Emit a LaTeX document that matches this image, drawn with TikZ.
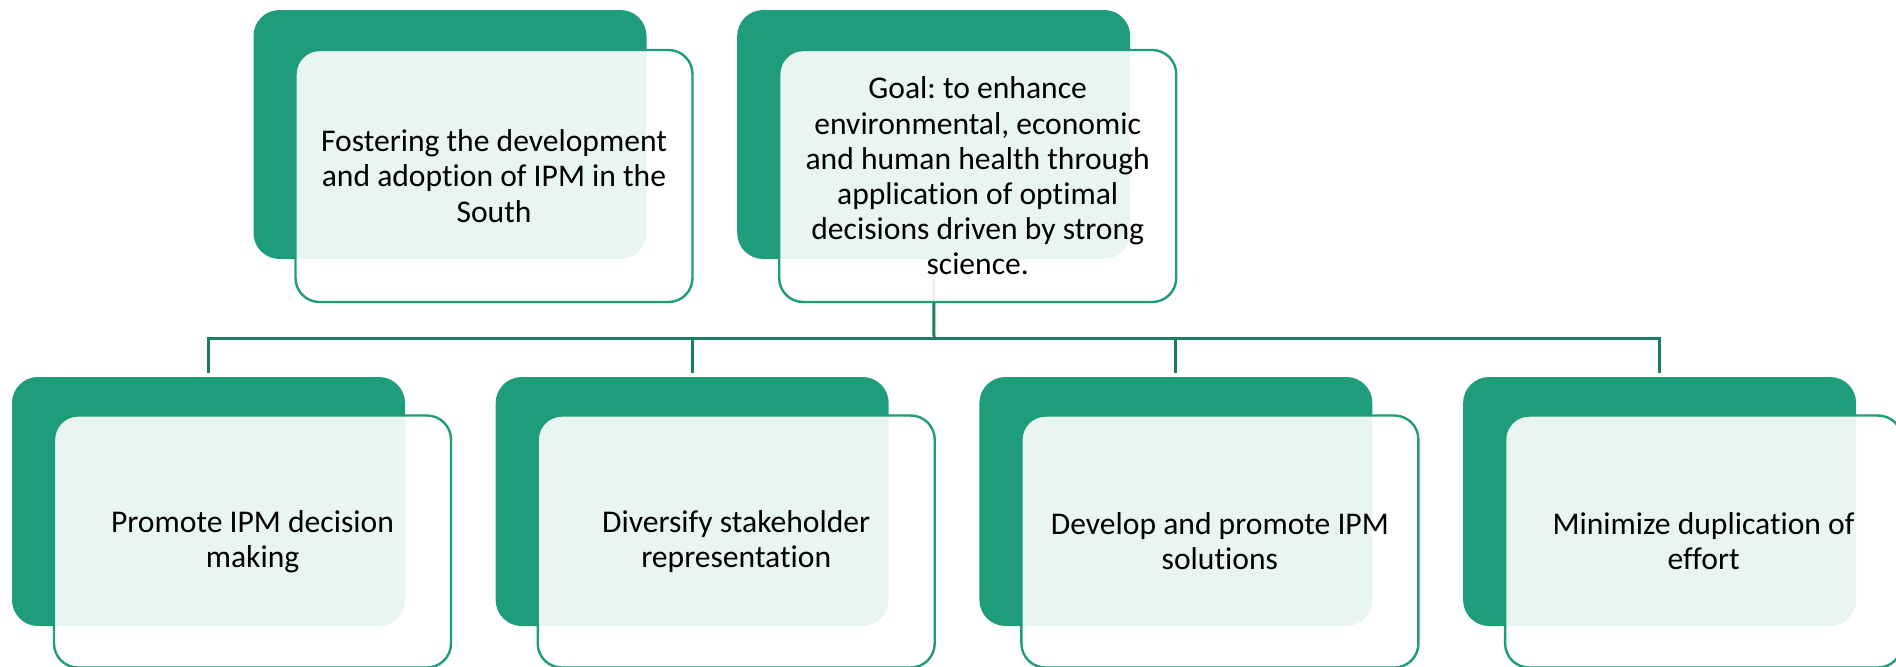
\documentclass[tikz,border=0pt]{standalone}
\usepackage{fontspec}
\setmainfont{Carlito}[Ligatures={NoCommon,NoContextual}]
\frenchspacing
\usetikzlibrary{positioning}

\definecolor{leaf}{HTML}{1F9C7A}
\definecolor{stem}{HTML}{1B7D64}

\tikzset{
    backbox/.style={fill=leaf, rounded corners=13pt, minimum width=196.5pt,
        minimum height=124.5pt, outer sep=0pt},
    textbox/.style={draw=leaf, line width=1.2pt, fill=white, fill opacity=0.9,
        text opacity=1, rounded corners=12pt, minimum width=198.5pt,
        minimum height=126pt, align=center, outer sep=0pt,
        font=\fontsize{15.8}{17.6}\selectfont},
    link/.style={draw=stem, line width=1.5pt},
}

\begin{document}
\begin{tikzpicture}[x=0.5pt, y=-0.5pt, node distance=45.35pt]
            \useasboundingbox (0,0) rectangle (1896,666);

            % green cards, top and bottom rows
            \node [backbox] (t1) at (450,134.5) {};
            \node [backbox, right= of t1] (t2) {};
            \node [backbox] (b1) at (208.5,501.5) {};
            \node [backbox, right= of b1] (b2) {};
            \node [backbox, right= of b2] (b3) {};
            \node [backbox, right= of b3] (b4) {};

            % tree lines from the goal down to the four aims
            \coordinate (bus) at (934,338);
            \draw [link] (t2.south) -- (bus);
            \draw [link, shorten >=2pt] (bus) -| (b1.north);
            \draw [link, shorten >=2pt] (bus) -| (b4.north);
            \draw [link, shorten >=2pt] (b2.north |- bus) -- (b2.north);
            \draw [link, shorten >=2pt] (b3.north |- bus) -- (b3.north);

            % text cards
            \node [textbox] (mission) at ([shift={(44,41.5)}]t1.center)
                {Fostering the development\\and adoption of IPM in the\\South};
            \node [textbox] (goal) at ([shift={(44,41.5)}]t2.center)
                {Goal: to enhance\\environmental, economic\\and human health through\\application of optimal\\decisions driven by strong\\science.};
            \node [textbox] (aim1) at ([shift={(44,40)}]b1.center)
                {Promote IPM decision\\making};
            \node [textbox] (aim2) at ([shift={(44,40)}]b2.center)
                {Diversify stakeholder\\representation};
            \node [textbox] (aim3) at ([shift={(44,40)}]b3.center)
                {Develop and promote IPM\\solutions};
            \node [textbox] (aim4) at ([shift={(44,40)}]b4.center)
                {Minimize duplication of\\effort};
\end{tikzpicture}
\end{document}
